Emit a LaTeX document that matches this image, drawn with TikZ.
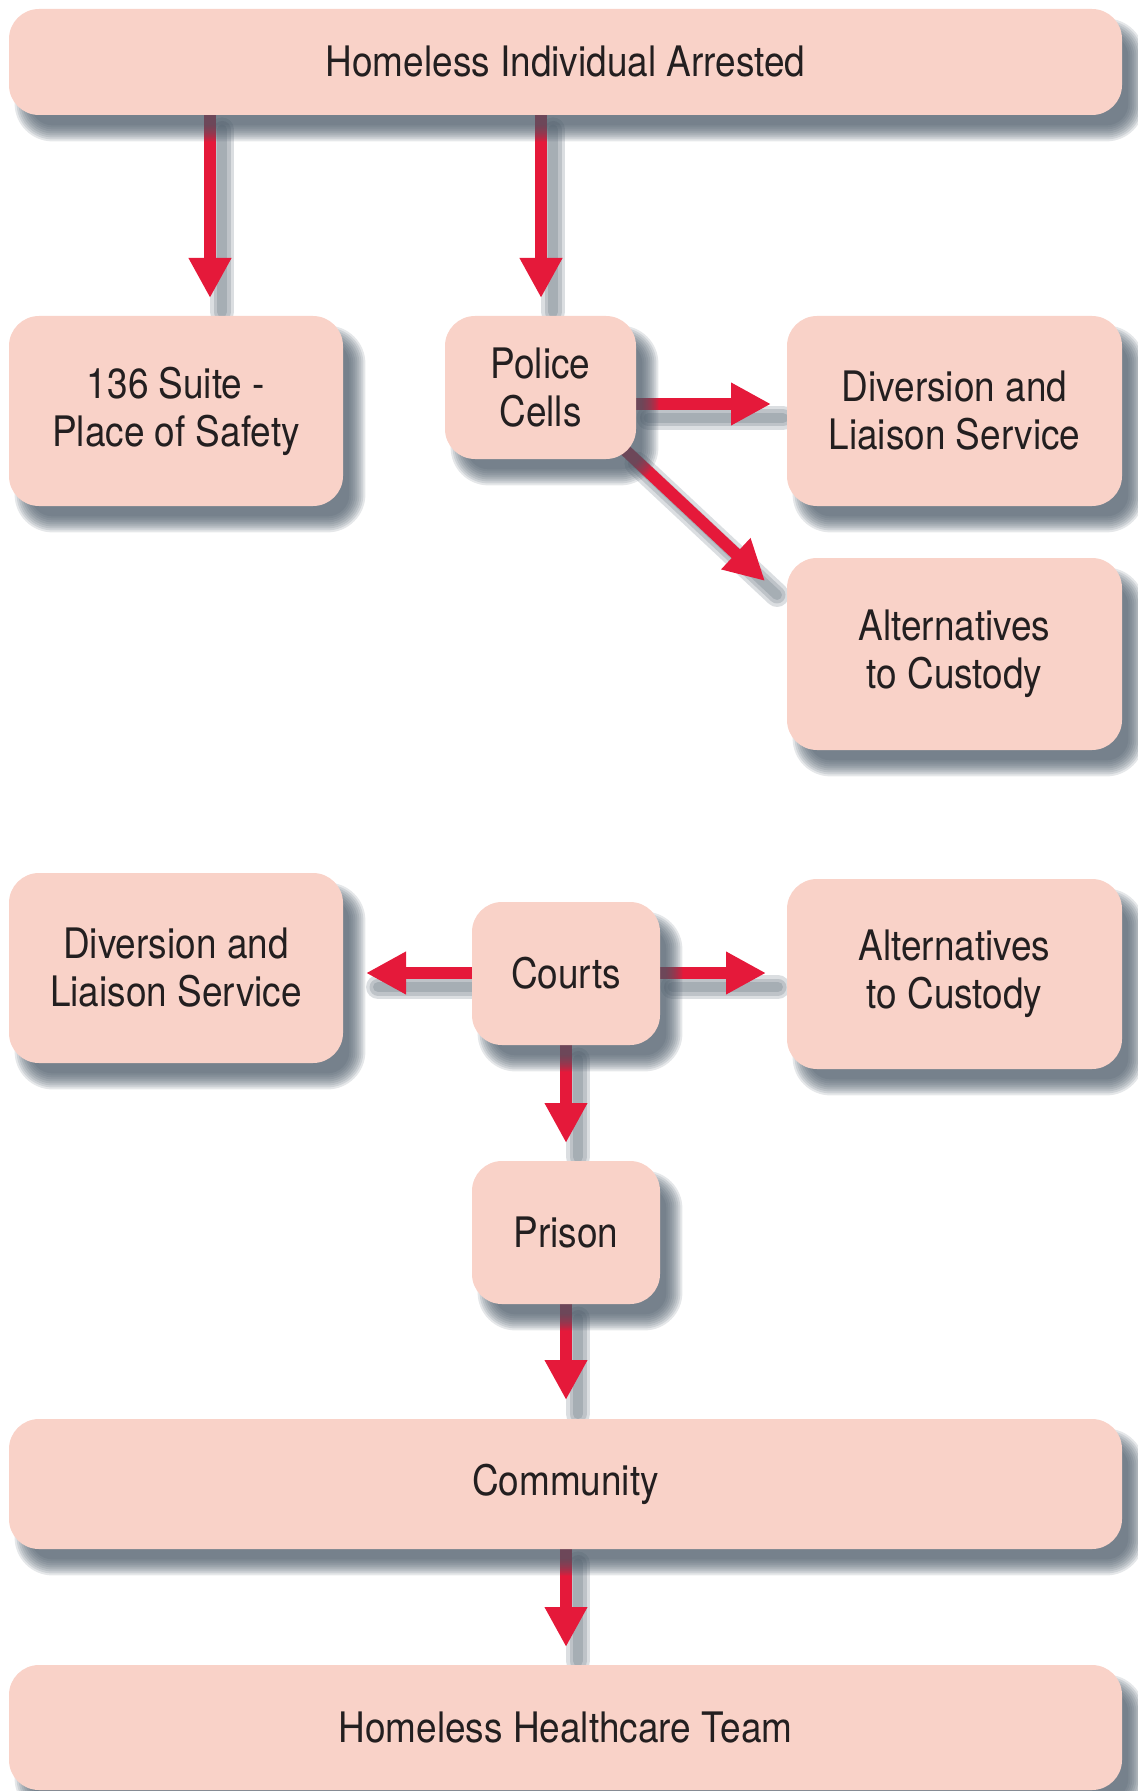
\documentclass[tikz,border=0pt]{standalone}
\usepackage{fontspec}
\setmainfont{TeX Gyre Heros}[FakeStretch=0.88]
\usetikzlibrary{arrows.meta}
\definecolor{boxfill}{HTML}{F9D2C8}
\definecolor{arrred}{HTML}{E5193A}
\definecolor{shadowc}{HTML}{4A5967}
\definecolor{txt}{HTML}{231F20}
\pgfdeclarelayer{bg}
\pgfdeclarelayer{shade}
\pgfsetlayers{bg,shade,main}
\tikzset{
  box/.style args={#1/#2}{draw=none, fill=boxfill, rounded corners=15pt, inner sep=0pt,
    minimum width=#1*0.5pt, minimum height=#2*0.5pt, align=center, text=txt,
    font=\fontsize{21}{24}\selectfont},
  twoline/.style={yshift=-1.5pt},
  arrow/.style={draw=arrred, line width=6pt, -{Triangle[length=20pt,width=20pt]}},
  arrshade/.style={draw=shadowc, line width=#1, opacity=0.2, line cap=round,
    transform canvas={shift={(6pt,-7pt)}}},
  shadelayer/.style={fill=shadowc, opacity=0.145},
}
\newcommand{\shadedarrow}[2]{%
  \draw[arrshade=12pt] #1 -- #2;
  \draw[arrshade=8.5pt] #1 -- #2;
  \draw[arrshade=5pt] #1 -- #2;
  \draw[arrow] #1 -- #2;
}
\newcommand{\boxshadow}[1]{%
  \foreach \d in {-4,-3,...,4}{%
    \pgfmathsetmacro{\rr}{15-\d}%
    \fill[shadelayer, rounded corners=\rr pt]
      ([shift={(7pt+\d pt,-9pt-\d pt)}]#1.north west) rectangle
      ([shift={(7pt-\d pt,-9pt+\d pt)}]#1.south east);
  }%
}
\begin{document}
\begin{tikzpicture}[x=0.5pt,y=-0.5pt]
\useasboundingbox (0,0) rectangle (1137,1791);
% boxes
\node[box=1113/106] (top) at (565.5,62) {Homeless Individual Arrested};
\node[box=334/190] (suite) at (176,411) {136 Suite -\\Place of Safety};
\node[box=191/143] (police) at (540.5,387.5) {Police\\Cells};
\node[box=335/190] (div1) at (954.5,411) {Diversion and\\Liaison Service};
\node[box=335/192] (alt1) at (954.5,654) {Alternatives\\to Custody};
\node[box=334/190] (div2) at (176,968) {Diversion and\\Liaison Service};
\node[box=188/143] (courts) at (566,973.5) {Courts};
\node[box=335/190] (alt2) at (954.5,974) {Alternatives\\to Custody};
\node[box=188/143] (prison) at (566,1232.5) {Prison};
\node[box=1113/130] (community) at (565.5,1484) {Community};
\node[box=1113/125] (hht) at (565.5,1727.5) {Homeless Healthcare Team};
% box shadows
\begin{pgfonlayer}{shade}
\foreach \n in {top,suite,police,div1,alt1,div2,courts,alt2,prison,community,hht}{\boxshadow{\n}}
\end{pgfonlayer}
% arrow tips
\coordinate (t1) at (210,298);
\coordinate (t2) at (541,298);
\coordinate (t3) at (771,404);
\coordinate (t4) at (765,581);
\coordinate (t5) at (366,973);
\coordinate (t6) at (766,973);
\coordinate (t7) at (566,1143);
\coordinate (t8) at (566,1400);
\coordinate (t9) at (566,1647);
\begin{pgfonlayer}{bg}
\shadedarrow{(top.south -| t1)}{(t1)}
\shadedarrow{(top.south -| t2)}{(t2)}
\shadedarrow{(police.east |- t3)}{(t3)}
\shadedarrow{([shift={(-6pt,5pt)}]police.south east)}{(t4)}
\shadedarrow{(courts.west |- t5)}{(t5)}
\shadedarrow{(courts.east |- t6)}{(t6)}
\shadedarrow{(courts.south -| t7)}{(t7)}
\shadedarrow{(prison.south -| t8)}{(t8)}
\shadedarrow{(community.south -| t9)}{(t9)}
\end{pgfonlayer}
\end{tikzpicture}
\end{document}
